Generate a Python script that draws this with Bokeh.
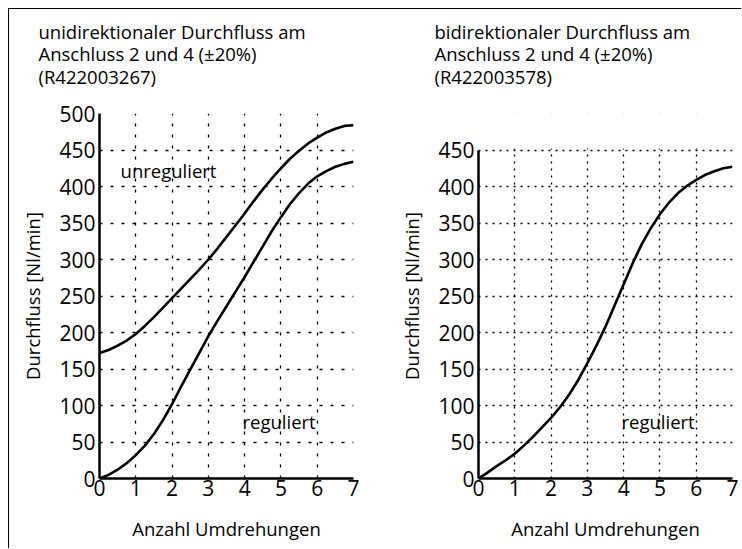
from bokeh.plotting import figure
from bokeh.models import Range1d, FixedTicker, BoxAnnotation
from bokeh.layouts import row
from bokeh.embed import file_html
from bokeh.resources import INLINE
from bokeh.core.properties import value

FONT = "Open Sans"

# ---- data ----
turns = [0, 0.25, 0.5, 0.75, 1, 1.25, 1.5, 1.75, 2, 2.25, 2.5, 2.75, 3, 3.25, 3.5,
         3.75, 4, 4.25, 4.5, 4.75, 5, 5.25, 5.5, 5.75, 6, 6.25, 6.5, 6.75, 7]
uni_unregulated = [172, 176, 182, 189, 198, 209, 221, 234, 247, 260, 273, 286, 300, 315, 331,
                   347, 363, 380, 396, 411, 425, 438, 449, 459, 467, 474, 479, 483, 484]
uni_regulated = [0, 5, 12, 21, 32, 45, 61, 80, 102, 126, 149, 172, 195, 216, 236,
                 256, 276, 297, 318, 339, 358, 376, 391, 404, 414, 421, 427, 431, 434]
bi_regulated = [0, 8, 17, 25, 34, 45, 57, 70, 83, 98, 115, 135, 158, 182, 208,
                237, 266, 295, 321, 343, 362, 378, 391, 401, 409, 416, 421, 425, 427]

x_ticks = [0, 1, 2, 3, 4, 5, 6, 7]
y_ticks_left = [0, 50, 100, 150, 200, 250, 300, 350, 400, 450, 500]
y_ticks_right = [0, 50, 100, 150, 200, 250, 300, 350, 400, 450]
y_max_left = 500
y_max_right = 450

title_left = "unidirektionaler Durchfluss am\nAnschluss 2 und 4 (\u00b120%)\n(R422003267)\n"
title_right = "bidirektionaler Durchfluss am\nAnschluss 2 und 4 (\u00b120%)\n(R422003578)\n"
y_label = "Durchfluss [Nl/min]"
x_label = "Anzahl Umdrehungen"

TXT = "18.5px"


def make_fig(width, yticks, mb_left, mb_right, dash, title, title_offset):
    p = figure(width=width, height=540, x_range=Range1d(0, 7), y_range=Range1d(0, y_max_left),
               output_backend="svg", toolbar_location=None,
               min_border_left=mb_left, min_border_right=mb_right,
               min_border_top=104, min_border_bottom=71)
    p.title.text = title
    p.title.text_font = FONT
    p.title.text_font_size = TXT
    p.title.text_font_style = "normal"
    p.title.text_color = "black"
    p.title.text_line_height = 0.91
    p.title.align = "left"
    p.title.vertical_align = "top"
    p.title.offset = title_offset
    p.title.standoff = 0
    p.outline_line_color = None
    p.background_fill_color = "white"
    p.border_fill_color = "white"
    for ax in (p.xaxis[0], p.yaxis[0]):
        ax.axis_line_width = 2.5
        ax.axis_line_color = "black"
        ax.major_tick_line_color = None
        ax.minor_tick_line_color = None
        ax.major_tick_out = 0
        ax.major_tick_in = 0
        ax.major_label_text_font = FONT
        ax.major_label_text_font_size = "21px"
        ax.major_label_text_color = "black"
        ax.axis_label_text_font = FONT
        ax.axis_label_text_font_size = TXT
        ax.axis_label_text_font_style = "normal"
        ax.axis_label_text_color = "black"
    p.xaxis.ticker = FixedTicker(ticks=x_ticks)
    p.yaxis.ticker = FixedTicker(ticks=yticks)
    p.yaxis.bounds = (0, yticks[-1])
    p.xaxis.major_label_standoff = 1
    p.yaxis.major_label_standoff = 4
    p.xaxis.axis_label = x_label
    p.yaxis.axis_label = y_label
    p.xaxis.axis_label_standoff = 17
    p.yaxis.axis_label_standoff = 11
    p.xgrid.ticker = FixedTicker(ticks=x_ticks)
    p.ygrid.ticker = FixedTicker(ticks=yticks)
    for g in (p.xgrid[0], p.ygrid[0]):
        g.grid_line_color = "black"
        g.grid_line_width = 1.3
        g.grid_line_dash = dash
    return p


# left chart
pl = make_fig(366, y_ticks_left, 90, 22, "3 8", title_left, -61)
pl.line(turns, uni_unregulated, line_color="black", line_width=2.6)
pl.line(turns, uni_regulated, line_color="black", line_width=2.6)
pl.text(x=[0.58], y=[422], text=["unreguliert"], text_font=value(FONT), text_font_size=TXT,
        text_baseline="middle", text_align="left", text_color="black")
pl.text(x=[3.94], y=[78], text=["reguliert"], text_font=value(FONT), text_font_size=TXT,
        text_baseline="middle", text_align="left", text_color="black")

# right chart (same scale, area above its top value blanked)
pr = make_fig(367, y_ticks_right, 103, 10, "2 5", title_right, -44)
pr.add_layout(BoxAnnotation(bottom=y_max_right + 2, top=y_max_left + 40, left=-1, right=8,
                            fill_color="white", fill_alpha=1.0, line_color=None,
                            line_alpha=0))
pr.line(turns, bi_regulated, line_color="black", line_width=2.6)
pr.text(x=[3.94], y=[78], text=["reguliert"], text_font=value(FONT), text_font_size=TXT,
        text_baseline="middle", text_align="left", text_color="black")

layout = row(pl, pr, margin=(9, 0, 0, 9))
layout.styles = {"box-shadow": "-1px -1px 0 0 #000"}
open("out.html", "w").write(file_html(layout, INLINE))
